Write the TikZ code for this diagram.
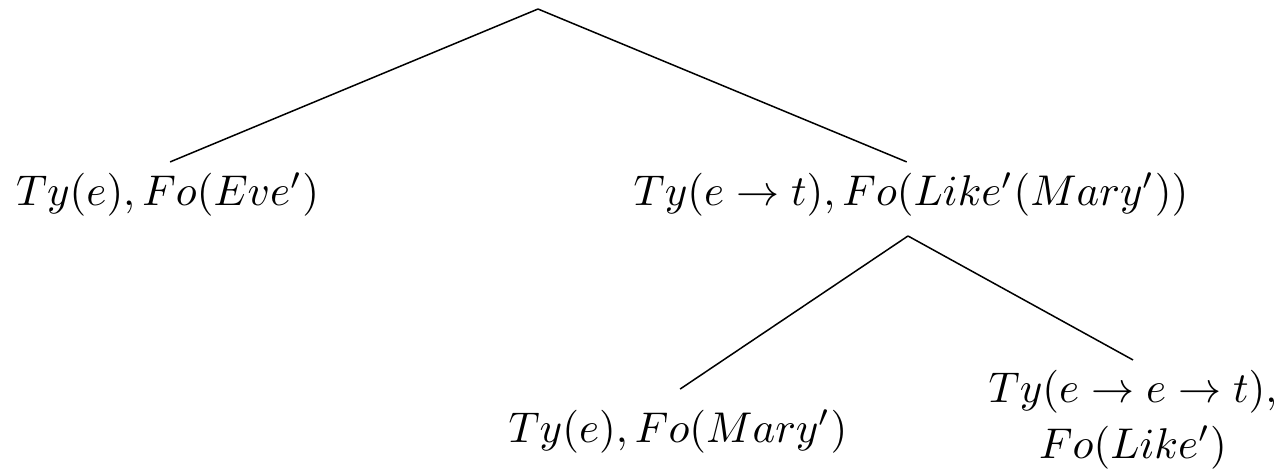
\documentclass[tikz,border=0pt]{standalone}
\begin{document}
\begin{tikzpicture}[x=0.2325pt,y=-0.2325pt,
  lbl/.style={inner sep=0pt,outer sep=0pt,font=\normalsize},
  edge/.style={line width=0.35pt}]
\useasboundingbox (0,0) rectangle (1288,471);
\coordinate (root) at (538,9);
\node[lbl,anchor=base] (eve) at (167.5,205) {$Ty(e), Fo(Eve')$};
\node[lbl,anchor=base] (et) at (911,205) {$Ty(e \rightarrow t), Fo(Like'(Mary'))$};
\node[lbl,anchor=base] (mary) at (678,442) {$Ty(e), Fo(Mary')$};
\node[lbl,anchor=north,align=center] (like) at (1133,370.7) {$Ty(e \rightarrow e \rightarrow t),$\\[0.8pt]$Fo(Like')$};
\draw[edge] (root) -- ([xshift=0.6pt,yshift=2.5pt]eve.north);
\draw[edge] (root) -- ([xshift=-1pt,yshift=2.5pt]et.north);
\draw[edge] ([xshift=-0.7pt,yshift=-4.7pt]et.south) -- ([xshift=0.5pt,yshift=4.8pt]mary.north);
\draw[edge] ([xshift=-0.7pt,yshift=-4.7pt]et.south) -- ([yshift=2.5pt]like.north);
\end{tikzpicture}
\end{document}
